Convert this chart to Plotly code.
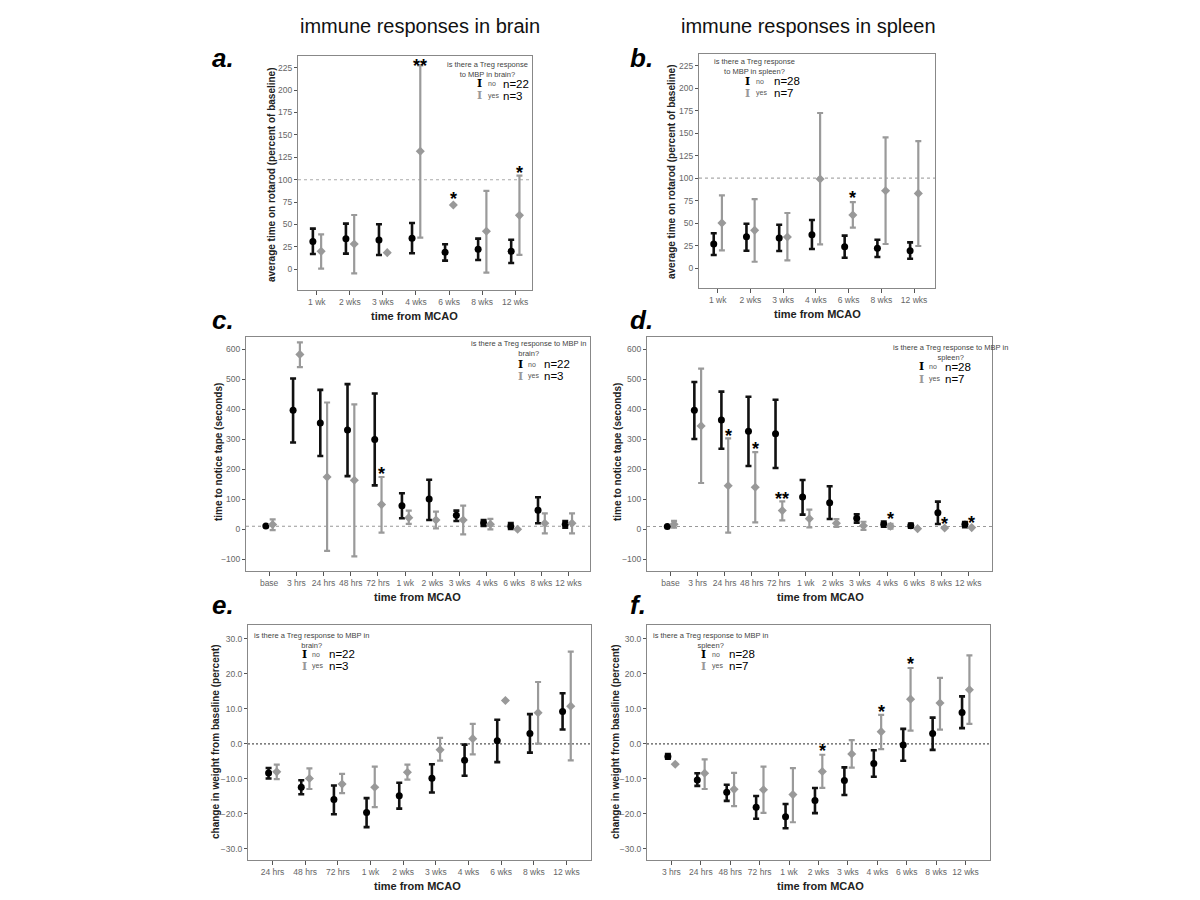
import plotly.graph_objects as go
import numpy as np

W, H = 1200, 900

# ---------------- data ----------------
A_CATS = ["1 wk", "2 wks", "3 wks", "4 wks", "6 wks", "8 wks", "12 wks"]
A_NO_MEAN = [30.9, 34.2, 32.7, 34.6, 19.0, 22.3, 20.0]
A_NO_HI = [45.4, 51.0, 50.2, 51.7, 27.9, 34.2, 33.0]
A_NO_LO = [17.1, 17.5, 16.0, 17.9, 9.7, 10.4, 7.0]
A_YES_MEAN = [20.0, 28.3, 18.6, 131.7, 71.8, 42.4, 60.2]
A_YES_HI = [39.0, 60.6, None, 227.6, None, 87.4, 104.5]
A_YES_LO = [0.7, -4.5, None, 35.3, None, -3.7, 16.0]
A_STARS = [["4 wks", "**", 232], ["6 wks", "*", 84], ["12 wks", "*", 113]]
A_REF = 100

B_CATS = ["1 wk", "2 wks", "3 wks", "4 wks", "6 wks", "8 wks", "12 wks"]
B_NO_MEAN = [26.7, 34.8, 33.4, 37.1, 23.7, 21.9, 19.3]
B_NO_HI = [38.6, 49.3, 48.2, 53.4, 36.0, 31.5, 28.5]
B_NO_LO = [14.5, 19.3, 18.9, 21.1, 11.5, 12.2, 10.4]
B_YES_MEAN = [50.0, 41.9, 34.5, 99.0, 58.9, 86.0, 83.0]
B_YES_HI = [80.8, 76.7, 61.2, 172.4, 73.4, 145.3, 141.2]
B_YES_LO = [19.6, 7.0, 8.5, 26.3, 44.9, 26.7, 24.5]
B_STARS = [["6 wks", "*", 83]]
B_REF = 100

C_CATS = ["base", "3 hrs", "24 hrs", "48 hrs", "72 hrs", "1 wk", "2 wks",
          "3 wks", "4 wks", "6 wks", "8 wks", "12 wks"]
C_NO_MEAN = [11, 396, 354, 330, 299, 78.6, 100.8, 46.4, 20.9, 9.8, 63, 16.5]
C_NO_HI = [None, 502, 464, 483, 452, 119.6, 165, 62, 30.9, 20.9, 106.3, 27.6]
C_NO_LO = [None, 289, 244, 177, 146, 36.4, 30.9, 27.6, 10.9, 1, 19.8, 5.4]
C_YES_MEAN = [16, 582, 174, 163, 82, 38.6, 30.9, 30.9, 16.5, 0, 19.8, 19.8]
C_YES_HI = [33, 622, 422, 416, 174, 62, 58.6, 78.6, 34.2, None, 53, 53]
C_YES_LO = [-3, 540, -72, -90, -11, 17.6, 3.1, -16.8, -0.2, None, -13.5, -13.5]
C_STARS = [["72 hrs", "*", 202]]
C_REF = 10

D_CATS = ["base", "3 hrs", "24 hrs", "48 hrs", "72 hrs", "1 wk", "2 wks",
          "3 wks", "4 wks", "6 wks", "8 wks", "12 wks"]
D_NO_MEAN = [9, 396, 364, 326, 318, 107.4, 88.6, 36.4, 16.5, 12, 55.3, 16.5]
D_NO_HI = [None, 490, 458, 441, 431, 164, 143, 49.7, 25.3, 18.7, 92, 24]
D_NO_LO = [None, 300.5, 268, 210.6, 204, 48.6, 34.2, 22, 8.7, 5.4, 17.6, 6.5]
D_YES_MEAN = [16.5, 344, 145, 140, 62, 35.3, 20, 12, 10, 2, 4.3, 5.4]
D_YES_HI = [27.6, 534.5, 302.7, 257, 93, 65.3, 34, 25, 17.6, None, None, None]
D_YES_LO = [5.4, 154, -11, 23, 29.8, 6.5, 7.6, -2, 2, None, None, None]
D_STARS = [["24 hrs", "*", 327], ["48 hrs", "*", 284], ["72 hrs", "**", 117],
           ["4 wks", "*", 51], ["8 wks", "*", 33], ["12 wks", "*", 36]]
D_REF = 9

E_CATS = ["24 hrs", "48 hrs", "72 hrs", "1 wk", "2 wks", "3 wks", "4 wks",
          "6 wks", "8 wks", "12 wks"]
E_NO_MEAN = [-8.35, -12.4, -15.9, -19.6, -14.8, -9.8, -4.7, 0.9, 3.0, 9.3]
E_NO_HI = [-6.9, -10.4, -11.9, -15.5, -11.1, -5.8, -0.2, 6.9, 8.5, 14.5]
E_NO_LO = [-9.9, -14.4, -20.1, -23.8, -18.5, -13.9, -9.1, -5.2, -2.5, 4.1]
E_YES_MEAN = [-8.0, -9.9, -11.5, -12.4, -8.1, -1.7, 1.5, 12.4, 8.9, 10.8]
E_YES_HI = [-5.9, -7.0, -8.6, -6.5, -5.9, 1.7, 5.7, None, 17.7, 26.4]
E_YES_LO = [-10.1, -12.9, -14.1, -18.1, -10.2, -4.8, -3.0, None, 0.05, -4.7]
E_STARS = []
E_REF = 0

F_CATS = ["3 hrs", "24 hrs", "48 hrs", "72 hrs", "1 wk", "2 wks", "3 wks",
          "4 wks", "6 wks", "8 wks", "12 wks"]
F_NO_MEAN = [-3.6, -10.3, -13.8, -18.1, -20.8, -16.2, -10.5, -5.6, -0.3, 3.0, 9.0]
F_NO_HI = [-2.9, -8.4, -11.7, -14.9, -17.2, -12.6, -6.7, -1.8, 4.3, 7.5, 13.6]
F_NO_LO = [-4.2, -12.0, -16.3, -21.4, -24.1, -19.8, -14.6, -9.4, -4.8, -1.7, 4.5]
F_YES_MEAN = [-5.8, -8.4, -13.0, -13.1, -14.5, -7.9, -2.9, 3.5, 12.8, 11.7, 15.5]
F_YES_HI = [None, -4.4, -8.3, -6.5, -6.9, -3.1, 1.1, 8.3, 21.7, 18.9, 25.3]
F_YES_LO = [None, -12.9, -17.8, -19.7, -22.4, -12.6, -6.8, -1.5, 3.8, 4.1, 5.7]
F_STARS = [["2 wks", "*", -0.6], ["4 wks", "*", 10.6], ["6 wks", "*", 24.3]]
F_REF = 0

Y_TITLE_ROT = "average time on rotarod (percent of baseline)"
Y_TITLE_TAPE = "time to notice tape (seconds)"
Y_TITLE_WT = "change in weight from baseline (percent)"
X_TITLE = "time from MCAO"

# ---------------- layout helpers ----------------
FONT = "Liberation Sans, Arial, sans-serif"
NO_OFF, YES_OFF = -0.12, 0.13
PAGE_OFF = 8  # default page margin around the plot div


def px(x):
    return (x - PAGE_OFF) / W


def py(y):
    return 1 - (y - PAGE_OFF) / H


def errs(mean, hi, lo):
    up = [np.nan if h is None else h - m for m, h in zip(mean, hi)]
    dn = [np.nan if l is None else m - l for m, l in zip(mean, lo)]
    return up, dn


panels = [
    dict(key="a", cats=A_CATS, nm=A_NO_MEAN, nh=A_NO_HI, nl=A_NO_LO,
         ym=A_YES_MEAN, yh=A_YES_HI, yl=A_YES_LO, stars=A_STARS, ref=A_REF,
         box=(298, 532, 56, 290), xr=[-0.57, 6.51], yr=[-23.1, 238],
         yt=list(range(0, 226, 25)), fmt="", refdash="dot", refcol="#aaaaaa",
         ytitle=Y_TITLE_ROT, ytx=271, yty=175, xtx=414, xty=316),
    dict(key="b", cats=B_CATS, nm=B_NO_MEAN, nh=B_NO_HI, nl=B_NO_LO,
         ym=B_YES_MEAN, yh=B_YES_HI, yl=B_YES_LO, stars=B_STARS, ref=B_REF,
         box=(699, 935, 54, 288), xr=[-0.57, 6.64], yr=[-22.2, 238],
         yt=list(range(0, 226, 25)), fmt="", refdash="dot", refcol="#aaaaaa",
         ytitle=Y_TITLE_ROT, ytx=671, yty=172, xtx=817, xty=314),
    dict(key="c", cats=C_CATS, nm=C_NO_MEAN, nh=C_NO_HI, nl=C_NO_LO,
         ym=C_YES_MEAN, yh=C_YES_HI, yl=C_YES_LO, stars=C_STARS, ref=C_REF,
         box=(246, 590, 337, 571), xr=[-0.85, 11.79], yr=[-139, 640],
         yt=list(range(-100, 601, 100)), fmt="", refdash="dot", refcol="#999999",
         ytitle=Y_TITLE_TAPE, ytx=218, yty=452, xtx=417, xty=597),
    dict(key="d", cats=D_CATS, nm=D_NO_MEAN, nh=D_NO_HI, nl=D_NO_LO,
         ym=D_YES_MEAN, yh=D_YES_HI, yl=D_YES_LO, stars=D_STARS, ref=D_REF,
         box=(647, 992, 337, 571), xr=[-0.87, 11.88], yr=[-139, 640],
         yt=list(range(-100, 601, 100)), fmt="", refdash="dot", refcol="#999999",
         ytitle=Y_TITLE_TAPE, ytx=617, yty=452, xtx=820, xty=597),
    dict(key="e", cats=E_CATS, nm=E_NO_MEAN, nh=E_NO_HI, nl=E_NO_LO,
         ym=E_YES_MEAN, yh=E_YES_HI, yl=E_YES_LO, stars=E_STARS, ref=E_REF,
         box=(248, 591, 625, 860), xr=[-0.75, 9.75], yr=[-33.2, 34.0],
         yt=list(range(-30, 31, 10)), fmt=".1f", refdash="2px,2px", refcol="#555555",
         ytitle=Y_TITLE_WT, ytx=215, yty=742, xtx=417, xty=886),
    dict(key="f", cats=F_CATS, nm=F_NO_MEAN, nh=F_NO_HI, nl=F_NO_LO,
         ym=F_YES_MEAN, yh=F_YES_HI, yl=F_YES_LO, stars=F_STARS, ref=F_REF,
         box=(647, 990, 625, 860), xr=[-0.83, 10.83], yr=[-33.2, 34.0],
         yt=list(range(-30, 31, 10)), fmt=".1f", refdash="2px,2px", refcol="#555555",
         ytitle=Y_TITLE_WT, ytx=615, yty=742, xtx=820, xty=886),
]

fig = go.Figure()
annotations = []
shapes = []
layout_axes = {}


def paper_text(x, y, text, size, color, family=FONT, xanchor="center",
               angle=0):
    annotations.append(dict(
        x=px(x), y=py(y), xref="paper", yref="paper", text=text,
        showarrow=False, xanchor=xanchor, yanchor="middle", textangle=angle,
        font=dict(family=family, size=size, color=color)))


for i, p in enumerate(panels):
    n = i + 1
    xa = "x" if n == 1 else f"x{n}"
    ya = "y" if n == 1 else f"y{n}"
    x0, x1, y0, y1 = p["box"]
    idx = np.arange(len(p["cats"]))

    up, dn = errs(p["nm"], p["nh"], p["nl"])
    fig.add_trace(go.Scatter(
        x=idx + NO_OFF, y=p["nm"], mode="markers", xaxis=xa, yaxis=ya,
        marker=dict(symbol="circle", size=7, color="#000000"),
        error_y=dict(type="data", symmetric=False, array=up, arrayminus=dn,
                     color="#111111", thickness=2.6, width=3),
        showlegend=False, hoverinfo="skip"))
    up, dn = errs(p["ym"], p["yh"], p["yl"])
    fig.add_trace(go.Scatter(
        x=idx + YES_OFF, y=p["ym"], mode="markers", xaxis=xa, yaxis=ya,
        marker=dict(symbol="diamond", size=7, color="#999999"),
        error_y=dict(type="data", symmetric=False, array=up, arrayminus=dn,
                     color="#9a9a9a", thickness=2.2, width=3),
        showlegend=False, hoverinfo="skip"))

    axkey = "xaxis" if n == 1 else f"xaxis{n}"
    aykey = "yaxis" if n == 1 else f"yaxis{n}"
    layout_axes[axkey] = dict(
        domain=[px(x0), px(x1)], anchor=ya, range=p["xr"],
        tickvals=list(idx), ticktext=p["cats"], ticks="outside", ticklen=4,
        tickcolor="#555555", showline=True, linecolor="#888888", linewidth=1,
        mirror=True, showgrid=False, zeroline=False,
        tickfont=dict(family=FONT, size=8.5, color="#666666"))
    layout_axes[aykey] = dict(
        domain=[py(y1), py(y0)], anchor=xa, range=p["yr"],
        tickvals=p["yt"], tickformat=p["fmt"], ticks="outside", ticklen=3,
        tickcolor="#555555", showline=True, linecolor="#888888", linewidth=1,
        mirror=True, showgrid=False, zeroline=False,
        tickfont=dict(family=FONT, size=8.5, color="#666666"))

    shapes.append(dict(type="line", xref=f"{xa} domain", yref=ya,
                       x0=0, x1=1, y0=p["ref"], y1=p["ref"], layer="below",
                       line=dict(color=p["refcol"], width=1.1, dash=p["refdash"])))

    for cat, txt, yv in p["stars"]:
        annotations.append(dict(
            x=p["cats"].index(cat) + YES_OFF, y=yv, xref=xa, yref=ya,
            text=f"<b>{txt}</b>", showarrow=False, yshift=-5,
            xanchor="center", yanchor="middle",
            font=dict(family=FONT, size=18, color="#000000")))

    paper_text(p["ytx"], p["yty"], f"<b>{p['ytitle']}</b>", 10, "#222222",
               angle=-90)
    paper_text(p["xtx"], p["xty"], f"<b>{X_TITLE}</b>", 11, "#222222")

# ---------------- legends (text) ----------------
LEGENDS = [
    # title, title centre x, title centre y, glyph x, "no" x, "n=" x, row ys, n labels
    ("is there a Treg response<br>to MBP in brain?", 487, 69, 479, 486, 501, [84, 96], ["n=22", "n=3"]),
    ("is there a Treg response<br>to MBP in spleen?", 754, 66.5, 747, 754, 772, [81, 93], ["n=28", "n=7"]),
    ("is there a Treg response to MBP in<br>brain?", 528, 349, 520, 526, 542, [364, 376], ["n=22", "n=3"]),
    ("is there a Treg response to MBP in<br>spleen?", 950, 352, 921, 927, 943, [367, 379], ["n=28", "n=7"]),
    ("is there a Treg response to MBP in<br>brain?", 311, 640, 304, 310, 327, [654, 666], ["n=22", "n=3"]),
    ("is there a Treg response to MBP in<br>spleen?", 710, 640, 703, 710, 727, [654, 666], ["n=28", "n=7"]),
]
for title, tcx, tcy, gx, nox, nx, rys, nlabels in LEGENDS:
    paper_text(tcx, tcy, title, 7.5, "#444444")
    for ry, col, word, nl in zip(rys, ["#000000", "#999999"], ["no", "yes"], nlabels):
        paper_text(gx, ry, "<b>I</b>", 11, col, family="DejaVu Serif, serif")
        paper_text(nox, ry, word, 7, "#555555", xanchor="left")
        paper_text(nx, ry, nl, 11.5, "#000000", xanchor="left")

# ---------------- panel letters & column titles ----------------
for letter, lx, ly in [("a.", 210, 58), ("b.", 628, 58), ("c.", 210, 320),
                       ("d.", 628, 320), ("e.", 210, 605), ("f.", 628, 605)]:
    paper_text(lx, ly, f"<b><i>{letter}</i></b>", 26, "#000000", xanchor="left")

for txt, cx in [("immune responses in brain", 420), ("immune responses in spleen", 808)]:
    paper_text(cx, 26, txt, 20, "#111111")

fig.update_layout(
    width=W, height=H, margin=dict(l=0, r=0, t=0, b=0),
    paper_bgcolor="#ffffff", plot_bgcolor="#ffffff",
    annotations=annotations, shapes=shapes, showlegend=False,
    **layout_axes)

fig.write_html("out.html")
